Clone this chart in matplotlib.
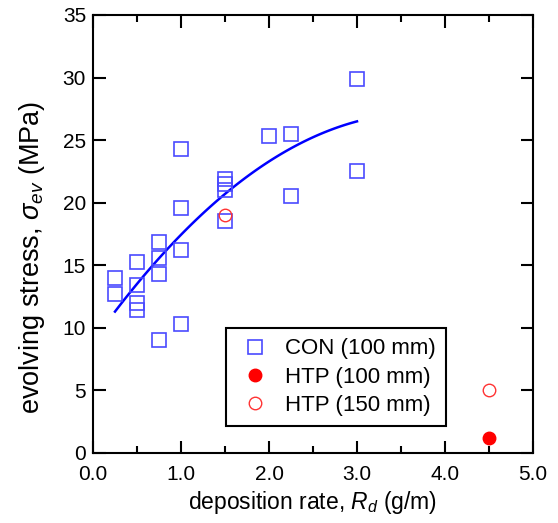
import numpy as np
import matplotlib.pyplot as plt
from matplotlib.ticker import MultipleLocator, FormatStrFormatter

plt.rcParams['font.family'] = ['Liberation Sans', 'DejaVu Sans']
plt.rcParams['mathtext.fontset'] = 'custom'
plt.rcParams['mathtext.it'] = 'Liberation Sans:italic'
plt.rcParams['mathtext.rm'] = 'Liberation Sans'

# CON (100 mm)
con_x = [0.25, 0.25, 0.5, 0.5, 0.5, 0.5, 0.75, 0.75, 0.75, 0.75,
         1.0, 1.0, 1.0, 1.0, 1.5, 1.5, 1.5, 1.5, 2.0, 2.25, 2.25, 3.0, 3.0]
con_y = [14.0, 12.7, 15.3, 13.4, 12.0, 11.4, 16.9, 15.6, 14.3, 9.0,
         24.3, 19.6, 16.2, 10.3, 21.9, 21.5, 21.0, 18.5, 25.3, 25.5, 20.5, 29.9, 22.5]
# HTP (100 mm)
htp100_x = [4.5]
htp100_y = [1.2]
# HTP (150 mm)
htp150_x = [1.5, 4.5]
htp150_y = [19.0, 5.0]

# trend curve
fit_x = [0.25, 1.5, 3.0]
fit_y = [11.3, 20.7, 26.5]

coef = np.polyfit(fit_x, fit_y, 2)
xx = np.linspace(0.25, 3.0, 100)

fig = plt.figure(figsize=(5.58, 5.23), dpi=100)
ax = fig.add_axes([93/558, 1-453/523, 440/558, 438/523])

ax.plot(xx, np.polyval(coef, xx), color='#0000ff', lw=1.8)
ax.plot(con_x, con_y, 's', ms=9.5, mfc='none', mec='#4a4aff', mew=1.2,
        ls='none', label='CON (100 mm)')
ax.plot(htp100_x, htp100_y, 'o', ms=9, mfc='red', mec='red',
        ls='none', label='HTP (100 mm)')
ax.plot(htp150_x, htp150_y, 'o', ms=9, mfc='none', mec='#ff3333', mew=1.0,
        ls='none', label='HTP (150 mm)')

ax.set_xlim(0, 5)
ax.set_ylim(0, 35)
ax.xaxis.set_major_locator(MultipleLocator(1))
ax.xaxis.set_minor_locator(MultipleLocator(0.5))
ax.xaxis.set_major_formatter(FormatStrFormatter('%.1f'))
ax.yaxis.set_major_locator(MultipleLocator(5))
ax.tick_params(which='both', direction='in', top=True, right=True, width=1.5)
ax.tick_params(which='major', length=9, labelsize=15)
ax.tick_params(axis='x', pad=9)
ax.tick_params(axis='y', pad=5)
ax.tick_params(which='minor', length=5)
for s in ax.spines.values():
    s.set_linewidth(1.5)

ax.set_xlabel('deposition rate, $R_d$ (g/m)', fontsize=16.5, labelpad=3.5)
ax.set_ylabel('evolving stress, $\\sigma_{ev}$ (MPa)', fontsize=19.5)
ax.yaxis.set_label_coords(-0.104, 0.447)

leg = ax.legend(loc='lower left', bbox_to_anchor=(0.302, 0.0616), fontsize=16,
                fancybox=False, edgecolor='black', framealpha=1,
                handlelength=1.7, handletextpad=0.5, borderpad=0.45,
                labelspacing=0.33, borderaxespad=0)
leg.get_frame().set_linewidth(1.5)

fig.savefig('out.png', dpi=100)
